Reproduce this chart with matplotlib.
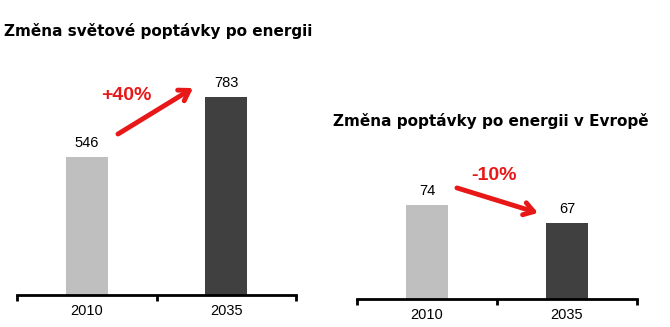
import matplotlib
matplotlib.use("Agg")
import matplotlib.pyplot as plt

plt.rcParams['font.family'] = ['Liberation Sans', 'DejaVu Sans']

# Data
categories = ["2010", "2035"]
world_values = [546, 783]
europe_values = [74, 67]
world_title = "Změna světové poptávky po energii"
europe_title = "Změna poptávky po energii v Evropě"
world_change = "+40%"
europe_change = "-10%"

bar_colors = ["#BFBFBF", "#404040"]
red = "#E81818"

fig = plt.figure(figsize=(6.7, 3.27), dpi=100)

def setup(ax, values, ylim):
    x = range(len(categories))
    ax.bar(x, values, width=0.30, color=bar_colors, zorder=2)
    ax.set_xlim(-0.5, len(categories) - 0.5)
    ax.set_ylim(*ylim)
    for s in ["top", "right", "left"]:
        ax.spines[s].set_visible(False)
    ax.spines["bottom"].set_linewidth(2.0)
    ax.spines["bottom"].set_color("black")
    ax.set_yticks([])
    ax.set_xticks(list(x))
    ax.set_xticklabels(categories, fontsize=10.5)
    ax.tick_params(axis="x", which="major", length=0, pad=6.5)
    ax.set_xticks([i - 0.5 for i in range(len(categories) + 1)], minor=True)
    ax.tick_params(axis="x", which="minor", length=4, width=2.0, direction="out", color="black")
    for i, v in enumerate(values):
        ax.annotate(str(v), (i, v), xytext=(0, 5), textcoords="offset points",
                    ha="center", va="bottom", fontsize=10.5, color="black")

# Left chart
ax1 = fig.add_axes([17/670, 32/327, 279/670, 252.7/327])
setup(ax1, world_values, (0, 1000))
ax1.annotate("", xy=(0.762, 819), xytext=(0.224, 637),
             arrowprops=dict(arrowstyle="->,head_length=0.7,head_width=0.45",
                             color=red, lw=3.5, shrinkA=0, shrinkB=0),
             annotation_clip=False)
ax1.text(0.281, 791, world_change, color=red, fontsize=14, fontweight="bold",
         ha="center", va="center")

# Right chart
ax2 = fig.add_axes([357/670, 28/327, 280/670, 149.3/327])
setup(ax2, europe_values, (37, 96))
ax2.annotate("", xy=(0.793, 71.0), xytext=(0.214, 80.9),
             arrowprops=dict(arrowstyle="->,head_length=0.7,head_width=0.45",
                             color=red, lw=3.5, shrinkA=0, shrinkB=0),
             annotation_clip=False)
ax2.text(0.482, 85.8, europe_change, color=red, fontsize=14, fontweight="bold",
         ha="center", va="center")

# Titles
fig.text(4/670, 1 - 36/327, world_title, fontsize=11, fontweight="bold",
         ha="left", va="baseline", family=["DejaVu Sans"])
fig.text(333/670, 1 - 126/327, europe_title, fontsize=11, fontweight="bold",
         ha="left", va="baseline", family=["DejaVu Sans"])

fig.savefig("out.png", dpi=100)
